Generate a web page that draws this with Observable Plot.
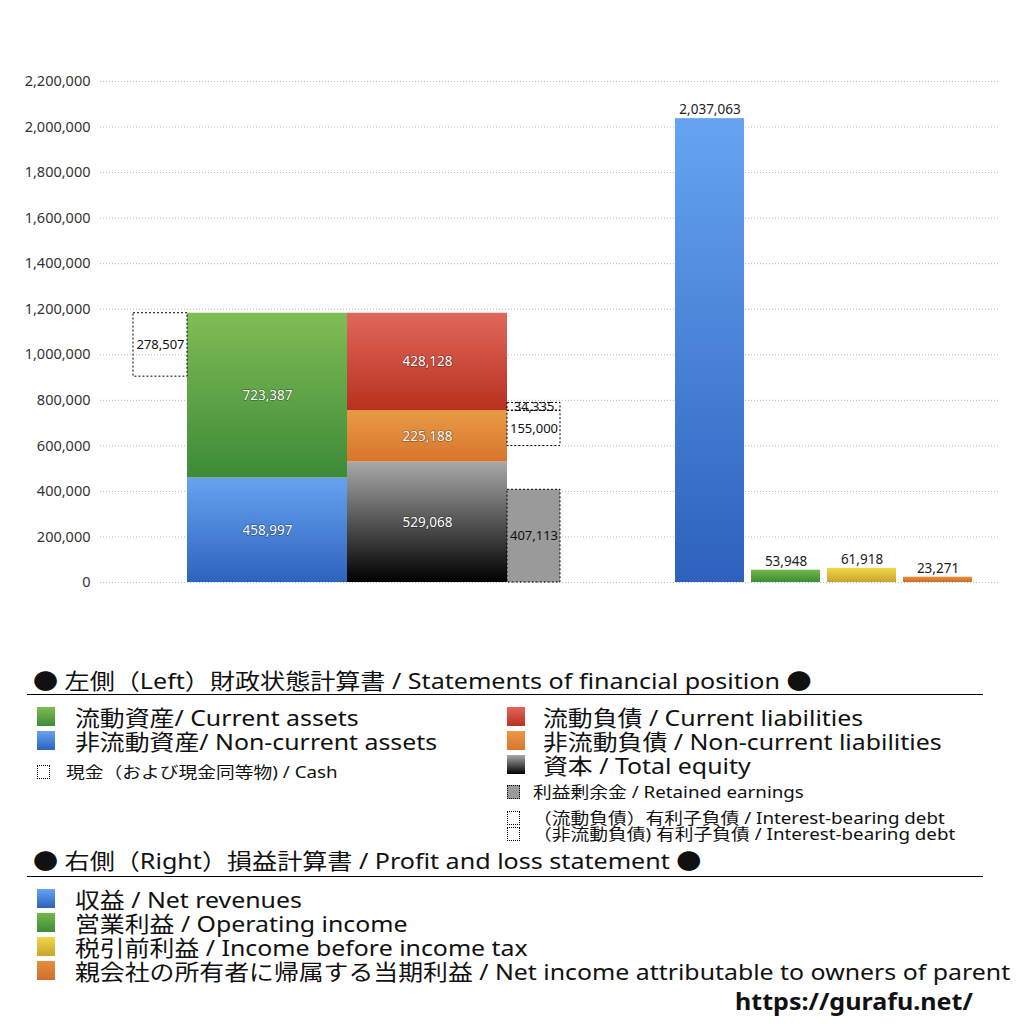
<!DOCTYPE html>
<html>
<head>
<meta charset="utf-8">
<script src="https://cdn.jsdelivr.net/npm/d3@7"></script>
<script src="https://cdn.jsdelivr.net/npm/@observablehq/plot@0.6"></script>
<style>
  html, body { margin: 0; padding: 0; background: #fff; }
  body { width: 1024px; height: 1024px; position: relative; overflow: hidden;
         font-family: "Noto Sans", "Noto Sans CJK JP", sans-serif; color: #111; }
  #chart { position: absolute; left: 0; top: 0; }
  .t { position: absolute; white-space: nowrap; transform-origin: 0 50%; }
  .big { font-size: 22px; line-height: 24px; height: 24px; transform: scaleX(1.13); }
  .head { font-size: 22px; line-height: 24px; height: 24px; transform: scaleX(1.14); }
  .small { font-size: 15.5px; line-height: 16px; height: 16px; transform: scaleX(1.21); }
  .sw { position: absolute; width: 18px; height: 19px; }
  .sws { position: absolute; width: 13px; height: 14px; }
  .rule { position: absolute; left: 27px; width: 956px; height: 0; border-top: 1px solid #000; }
</style>
</head>
<body>
<div id="chart"></div>
<div id="legend"></div>
<script>
// ---------------- data ----------------
// Left: statement of financial position
const assetNames = ["非流動資産", "流動資産"];
const assetValues = [458997, 723387];
const liabNames = ["資本", "非流動負債", "流動負債"];
const liabValues = [529068, 225188, 428128];
const cashValue = 278507;
const retainedValue = 407113;
const debtNames = ["非流動負債 有利子負債", "流動負債 有利子負債"];
const debtValues = [155000, 34335];
// Right: profit and loss
const plNames = ["収益", "営業利益", "税引前利益", "親会社の所有者に帰属する当期利益"];
const plValues = [2037063, 53948, 61918, 23271];
const yTicks = [0, 200000, 400000, 600000, 800000, 1000000, 1200000, 1400000, 1600000, 1800000, 2000000, 2200000];

// ---------------- layout (x slots, in plot units) ----------------
const slot = {
  cash: [33, 87], assets: [87, 247], liab: [247, 407], side: [407, 460],
  pl: [[575, 644], [651, 720], [727, 796], [803, 872]]
};
const grad = {
  "非流動資産": ["#66a3ef", "#2d63be"],
  "流動資産": ["#80bd54", "#3d8a39"],
  "資本": ["#a9a9a9", "#000000"],
  "非流動負債": ["#e99a45", "#d8752c"],
  "流動負債": ["#e0685c", "#b9301e"],
  "収益": ["#66a4f1", "#2d61bd"],
  "営業利益": ["#72b84c", "#3e8c35"],
  "税引前利益": ["#f1d748", "#c9a52e"],
  "親会社の所有者に帰属する当期利益": ["#e68f3e", "#cf6e2c"]
};

// ---------------- build rows ----------------
function stack(names, values, xs) {
  let acc = 0;
  return names.map((n, i) => {
    const r = {name: n, value: values[i], x1: xs[0], x2: xs[1], y1: acc, y2: acc + values[i]};
    acc += values[i];
    return r;
  });
}
const assetRows = stack(assetNames, assetValues, slot.assets);
const liabRows = stack(liabNames, liabValues, slot.liab);
const totalAssets = d3.sum(assetValues);
const solidRows = [...assetRows, ...liabRows];
const plRows = plNames.map((n, i) => ({name: n, value: plValues[i], x1: slot.pl[i][0], x2: slot.pl[i][1], y1: 0, y2: plValues[i]}));

const currentLiabBottom = liabValues[0] + liabValues[1];
const boxRows = [
  {name: "現金", value: cashValue, x1: slot.cash[0], x2: slot.cash[1], y1: totalAssets - cashValue, y2: totalAssets},
  {name: debtNames[0], value: debtValues[0], x1: slot.side[0], x2: slot.side[1], y1: currentLiabBottom - debtValues[0], y2: currentLiabBottom},
  {name: debtNames[1], value: debtValues[1], x1: slot.side[0], x2: slot.side[1], y1: currentLiabBottom, y2: currentLiabBottom + debtValues[1]}
];
const retainedRow = [{name: "利益剰余金", value: retainedValue, x1: slot.side[0], x2: slot.side[1], y1: 0, y2: retainedValue}];

const gid = n => "g" + Object.keys(grad).indexOf(n);
const fmt = d3.format(",");
const mid = d => (d.x1 + d.x2) / 2;
const ymid = d => (d.y1 + d.y2) / 2;

const svg = Plot.plot({
  width: 1024,
  height: 650,
  marginLeft: 100,
  marginRight: 24,
  marginTop: 81,
  marginBottom: 68,
  style: {fontFamily: "'Noto Sans', 'Noto Sans CJK JP', sans-serif", background: "#fff"},
  x: {domain: [0, 900], axis: null},
  y: {domain: [0, 2200000], axis: null},
  marks: [
    Plot.gridY(yTicks, {stroke: "#b8b8b8", strokeOpacity: 1, strokeDasharray: "1,2"}),
    Plot.axisY({ticks: yTicks, tickFormat: fmt, tickSize: 0, tickPadding: 10, fontSize: 14.5, fill: "#333", label: null}),
    Plot.rect(solidRows, {x1: "x1", x2: "x2", y1: "y1", y2: "y2", fill: d => `url(#${gid(d.name)})`}),
    Plot.rect(plRows, {x1: "x1", x2: "x2", y1: "y1", y2: "y2", fill: d => `url(#${gid(d.name)})`}),
    Plot.rect(retainedRow, {x1: "x1", x2: "x2", y1: "y1", y2: "y2", fill: "#9a9a9a", stroke: "#000", strokeWidth: 1, strokeDasharray: "2,2"}),
    Plot.rect(boxRows, {x1: "x1", x2: "x2", y1: "y1", y2: "y2", fill: "none", stroke: "#000", strokeWidth: 1, strokeDasharray: "2,2"}),
    Plot.text(solidRows, {x: mid, y: ymid, text: d => fmt(d.value), fill: "#fff", stroke: "rgba(0,0,0,0.35)", strokeWidth: 1.5, fontSize: 13.5}),
    Plot.text([...boxRows, ...retainedRow], {x: mid, y: ymid, text: d => fmt(d.value), fill: "#111", fontSize: 13}),
    Plot.text(plRows, {x: mid, y: "y2", dy: -9, text: d => fmt(d.value), fill: "#222", fontSize: 13.5})
  ]
});

// gradients
const NS = "http://www.w3.org/2000/svg";
const defs = document.createElementNS(NS, "defs");
Object.entries(grad).forEach(([n, [top, bottom]]) => {
  const lg = document.createElementNS(NS, "linearGradient");
  lg.setAttribute("id", gid(n));
  lg.setAttribute("x1", "0"); lg.setAttribute("y1", "0");
  lg.setAttribute("x2", "0"); lg.setAttribute("y2", "1");
  [[0, top], [1, bottom]].forEach(([o, c]) => {
    const s = document.createElementNS(NS, "stop");
    s.setAttribute("offset", o); s.setAttribute("stop-color", c);
    lg.appendChild(s);
  });
  defs.appendChild(lg);
});
svg.insertBefore(defs, svg.firstChild);
document.getElementById("chart").appendChild(svg);

// ---------------- legend ----------------
const legendLeftTitle = "● 左側（Left）財政状態計算書 / Statements of financial position ●";
const legendRightTitle = "● 右側（Right）損益計算書 / Profit and loss statement ●";
const legendItems = [
  {x: 37, tx: 75, cy: 717, text: "流動資産/ Current assets", key: "流動資産"},
  {x: 37, tx: 75, cy: 741, text: "非流動資産/ Non-current assets", key: "非流動資産"},
  {x: 37, tx: 66, cy: 772, text: "現金（および現金同等物) / Cash", box: "none", small: true},
  {x: 507, tx: 543, cy: 717, text: "流動負債 /  Current liabilities", key: "流動負債"},
  {x: 507, tx: 543, cy: 741, text: "非流動負債 / Non-current liabilities", key: "非流動負債"},
  {x: 507, tx: 543, cy: 765, text: "資本 / Total equity", key: "資本"},
  {x: 507, tx: 533, cy: 792, text: "利益剰余金 / Retained earnings", box: "#9a9a9a", small: true},
  {x: 507, tx: 533, cy: 818, text: "（流動負債）有利子負債 / Interest-bearing debt", box: "none", small: true},
  {x: 507, tx: 533, cy: 834, text: "（非流動負債) 有利子負債 / Interest-bearing debt", box: "none", small: true},
  {x: 37, tx: 75, cy: 899, text: "収益 / Net revenues", key: "収益"},
  {x: 37, tx: 75, cy: 923, text: "営業利益 / Operating income", key: "営業利益"},
  {x: 37, tx: 75, cy: 947, text: "税引前利益 / Income before income tax", key: "税引前利益"},
  {x: 37, tx: 75, cy: 971, text: "親会社の所有者に帰属する当期利益 / Net income attributable to owners of parent", key: "親会社の所有者に帰属する当期利益"}
];
const L = document.getElementById("legend");
function add(html) { L.insertAdjacentHTML("beforeend", html); }
add(`<div class="t head" style="left:33px;top:${680-12}px">${legendLeftTitle}</div>`);
add(`<div class="rule" style="top:694px"></div>`);
add(`<div class="t head" style="left:33px;top:${860-12}px">${legendRightTitle}</div>`);
add(`<div class="rule" style="top:876px"></div>`);
legendItems.forEach(it => {
  if (it.small) {
    const fill = it.box === "none" ? "#fff" : it.box;
    add(`<div class="sws" style="left:${it.x}px;top:${it.cy-7}px;background:${fill};border:1px dotted #000;box-sizing:border-box"></div>`);
    add(`<div class="t small" style="left:${it.tx}px;top:${it.cy-8}px">${it.text}</div>`);
  } else {
    const [a, b] = grad[it.key];
    add(`<div class="sw" style="left:${it.x}px;top:${it.cy-10}px;background:linear-gradient(${a},${b})"></div>`);
    add(`<div class="t big" style="left:${it.tx}px;top:${it.cy-12}px">${it.text}</div>`);
  }
});
add(`<div class="t" style="left:735px;top:${1001-13}px;font-size:23px;line-height:26px;font-weight:bold;transform:scaleX(1.09);font-family:'Noto Sans','DejaVu Sans',sans-serif">https://gurafu.net/</div>`);
</script>
</body>
</html>
